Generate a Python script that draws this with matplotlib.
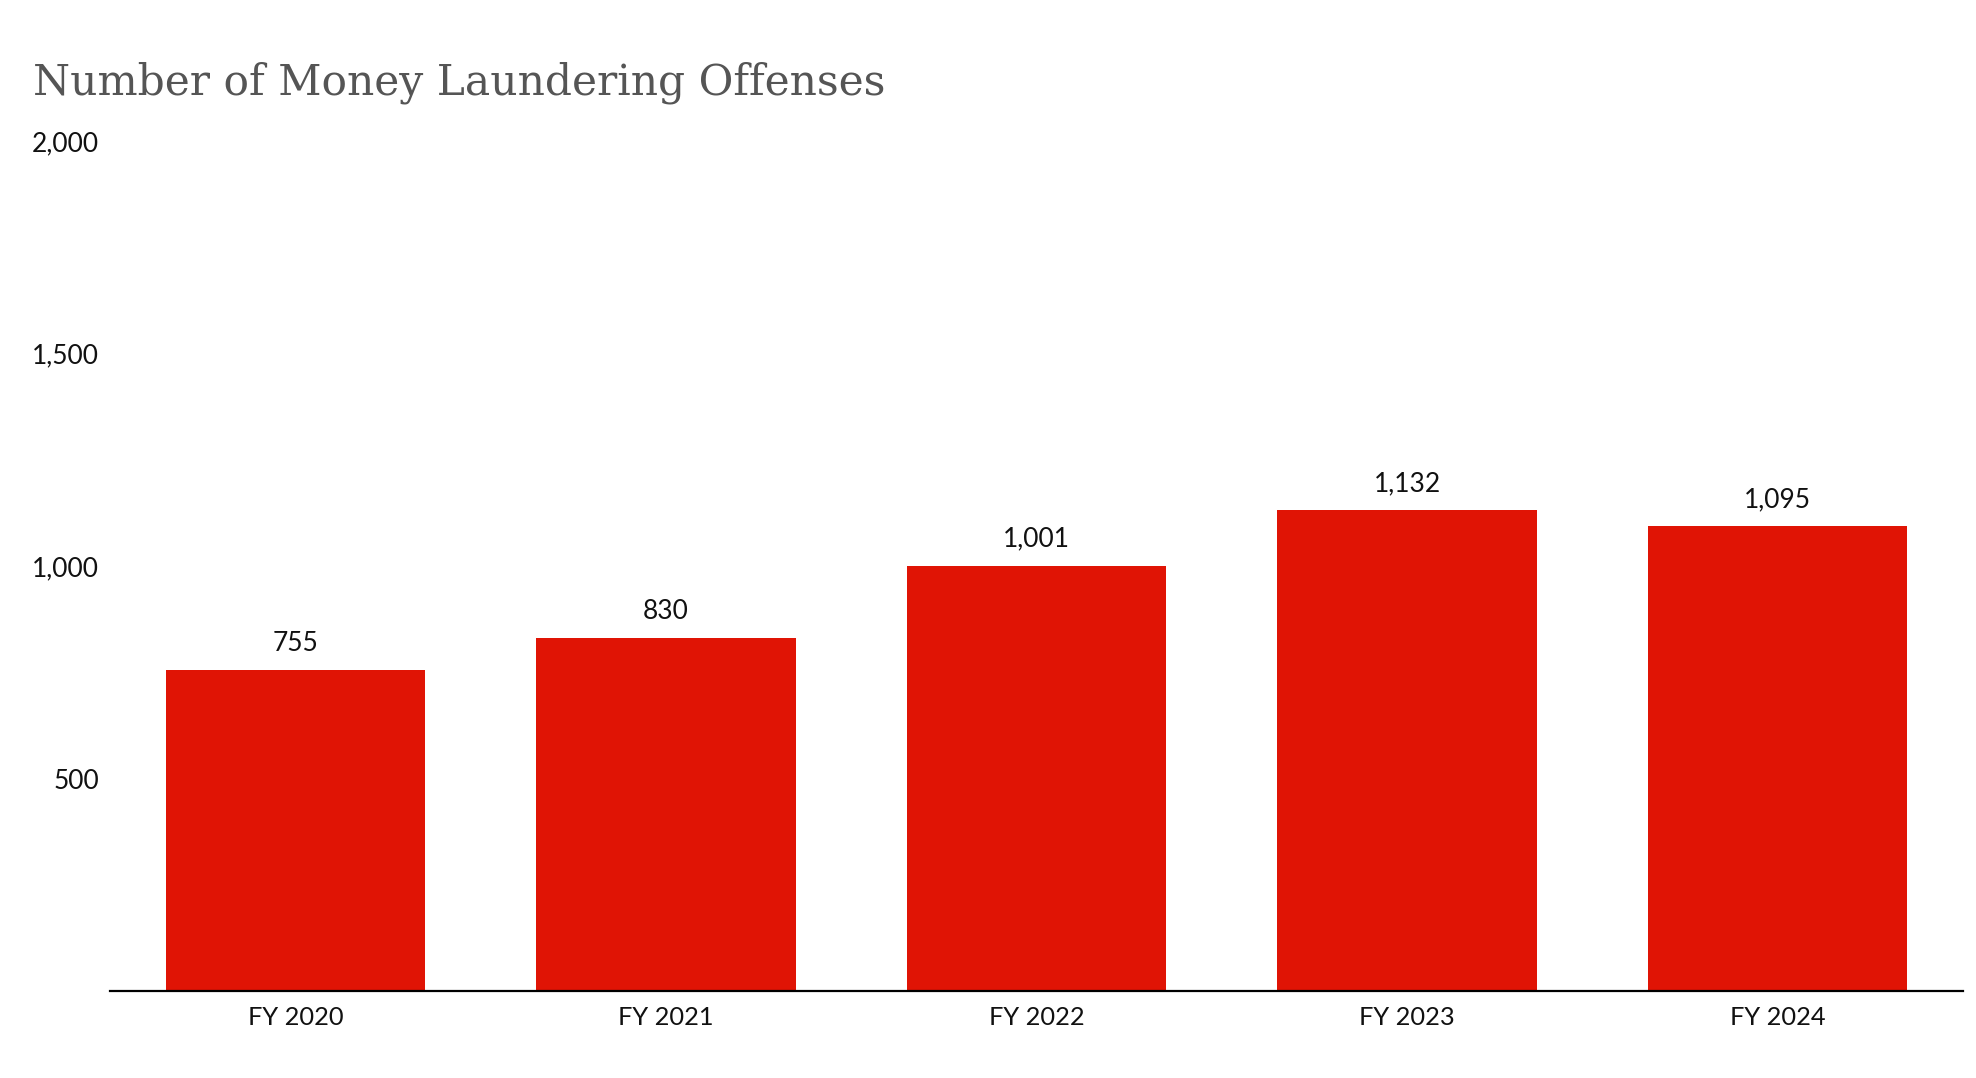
import matplotlib.pyplot as plt
from matplotlib.ticker import FuncFormatter

years = ["FY 2020", "FY 2021", "FY 2022", "FY 2023", "FY 2024"]
offenses = [755, 830, 1001, 1132, 1095]
y_ticks = [500, 1000, 1500, 2000]

BAR_RED = "#E01405"


def thousands(v, pos=None):
    return f"{int(v):,}"


def plot_offenses():
    plt.rcParams["font.family"] = ["Lato", "DejaVu Sans"]

    fig = plt.figure(figsize=(19.76, 10.78), dpi=100)
    ax = fig.add_axes([0.0557, 0.0807, 0.9377, 0.7883])

    x = list(range(len(years)))
    bars = ax.bar(x, offenses, width=0.7, color=BAR_RED, zorder=2)

    ax.set_xlim(-0.5, len(years) - 0.5)
    ax.set_ylim(0, 2000)
    ax.set_yticks(y_ticks)
    ax.yaxis.set_major_formatter(FuncFormatter(thousands))
    ax.set_xticks(x)
    ax.set_xticklabels(years)

    ax.tick_params(axis="y", length=0, pad=8, labelsize=19, labelcolor="#111111")
    ax.tick_params(axis="x", length=0, pad=11, labelsize=18.3, labelcolor="#111111")

    for side in ["top", "right", "left"]:
        ax.spines[side].set_visible(False)
    ax.spines["bottom"].set_linewidth(1.6)
    ax.spines["bottom"].set_color("#000000")

    for b, v in zip(bars, offenses):
        ax.annotate(thousands(v), (b.get_x() + b.get_width() / 2, v),
                    xytext=(0, 10), textcoords="offset points",
                    ha="center", va="bottom", fontsize=19, color="#111111")

    fig.text(0.0167, 1 - 94 / 1078, "Number of Money Laundering Offenses",
             family=["DejaVu Serif"], fontsize=30.5, color="#555555",
             ha="left", va="baseline")

    fig.savefig("out.png", dpi=100, facecolor="white")


if __name__ == "__main__":
    plot_offenses()
